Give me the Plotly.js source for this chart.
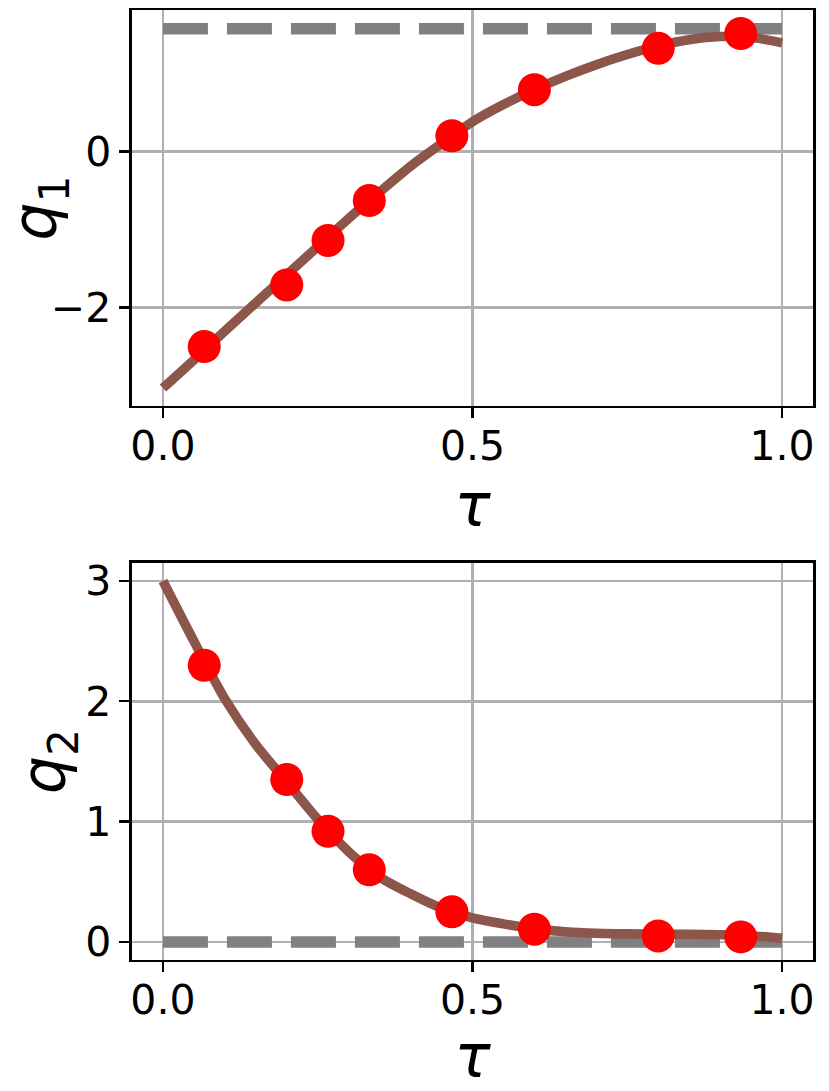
<!DOCTYPE html>
<html>
<head>
<meta charset="utf-8">
<script src="https://cdn.plot.ly/plotly-3.0.1.min.js"></script>
<style>
  html, body { margin: 0; padding: 0; background: #fff; }
  #chart { width: 829px; height: 1091px; }
</style>
</head>
<body>
<div id="chart"></div>
<script>
// fitted trajectories, sampled every 0.05 in tau
var tauLine = [0, 0.05, 0.1, 0.15, 0.2, 0.25, 0.3, 0.35, 0.4, 0.45, 0.5,
               0.55, 0.6, 0.65, 0.7, 0.75, 0.8, 0.85, 0.9, 0.95, 1.0];
var q1Line = [-3.03, -2.67, -2.30, -1.94, -1.58, -1.22, -0.86, -0.52, -0.19, 0.10, 0.38,
              0.60, 0.79, 0.96, 1.11, 1.24, 1.35, 1.43, 1.47, 1.46, 1.39];
var q2Line = [3.00, 2.50, 2.02, 1.64, 1.33, 1.02, 0.75, 0.54, 0.40, 0.28, 0.20,
              0.15, 0.11, 0.085, 0.072, 0.067, 0.065, 0.063, 0.060, 0.052, 0.030];

// sample points
var tauPts = [0.0667, 0.2, 0.2667, 0.3333, 0.4667, 0.6, 0.8, 0.9333];
var q1Pts = [-2.50, -1.71, -1.14, -0.63, 0.20, 0.79, 1.32, 1.51];
var q2Pts = [2.30, 1.35, 0.92, 0.60, 0.25, 0.106, 0.05, 0.042];

// goal values (dashed)
var tauGoal = [0, 1];
var q1Goal = [1.5708, 1.5708];
var q2Goal = [0, 0];

var font = 'DejaVu Sans';
var brown = '#8c564b';

function goalTrace(y, xa, ya) {
  return {x: tauGoal, y: y, xaxis: xa, yaxis: ya, mode: 'lines', type: 'scatter',
          line: {color: '#808080', width: 11.5, dash: '45px,19px'}, hoverinfo: 'skip'};
}
function curveTrace(y, xa, ya) {
  return {x: tauLine, y: y, xaxis: xa, yaxis: ya, mode: 'lines', type: 'scatter',
          line: {color: brown, width: 9.5, shape: 'spline', smoothing: 0.8}};
}
function dotTrace(y, xa, ya) {
  return {x: tauPts, y: y, xaxis: xa, yaxis: ya, mode: 'markers', type: 'scatter',
          marker: {color: '#ff0000', size: 33}};
}

var data = [
  goalTrace(q1Goal, 'x', 'y'), curveTrace(q1Line, 'x', 'y'), dotTrace(q1Pts, 'x', 'y'),
  goalTrace(q2Goal, 'x2', 'y2'), curveTrace(q2Line, 'x2', 'y2'), dotTrace(q2Pts, 'x2', 'y2')
];

function xax(anchor) {
  return {
    domain: [0.1592, 0.9807], anchor: anchor, range: [-0.05, 1.05],
    tickvals: [0, 0.5, 1.0], ticktext: ['0.0', '0.5', '1.0'],
    ticks: 'outside', ticklen: 10, tickwidth: 2.3, tickcolor: '#000',
    ticklabelstandoff: -8,
    showline: true, linecolor: '#000', linewidth: 2.5, mirror: true,
    showgrid: true, gridcolor: '#b0b0b0', gridwidth: 2.5, zeroline: false,
    tickfont: {family: font, size: 41, color: '#000'},
    title: {text: '<i>τ</i>', font: {family: font, size: 60, color: '#000'}, standoff: 12}
  };
}
function yax(anchor, dom, rng, vals, label) {
  return {
    domain: dom, anchor: anchor, range: rng, tickvals: vals,
    ticks: 'outside', ticklen: 10, tickwidth: 2.3, tickcolor: '#000',
    showline: true, linecolor: '#000', linewidth: 2.5, mirror: true,
    showgrid: true, gridcolor: '#b0b0b0', gridwidth: 2.5, zeroline: false,
    tickfont: {family: font, size: 41, color: '#000'},
    title: {text: label, font: {family: font, size: 60, color: '#000'}, standoff: 0}
  };
}

var layout = {
  width: 829, height: 1091,
  margin: {l: 0, r: 0, t: 0, b: 0},
  paper_bgcolor: '#fff', plot_bgcolor: '#fff',
  showlegend: false,
  xaxis: xax('y'),
  yaxis: yax('x', [0.6279, 0.9908], [-3.26, 1.81], [-2, 0], '<i>q</i><sub>1</sub>'),
  xaxis2: xax('y2'),
  yaxis2: yax('x2', [0.1201, 0.4840], [-0.15, 3.15], [0, 1, 2, 3], '<i>q</i><sub>2</sub>')
};

Plotly.newPlot('chart', data, layout, {displayModeBar: false, staticPlot: true});
</script>
</body>
</html>
